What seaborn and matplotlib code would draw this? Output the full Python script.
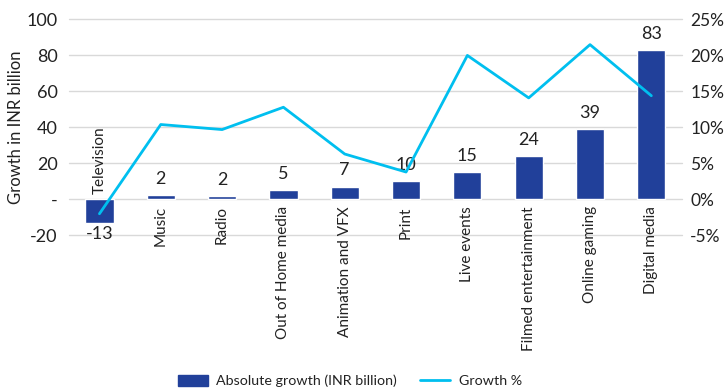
import matplotlib
matplotlib.use("Agg")
import matplotlib.pyplot as plt
import seaborn as sns
import pandas as pd
import numpy as np
from matplotlib.ticker import FuncFormatter
from matplotlib.patches import Patch
from matplotlib.lines import Line2D

categories = ["Television", "Music", "Radio", "Out of Home media", "Animation and VFX",
              "Print", "Live events", "Filmed entertainment", "Online gaming", "Digital media"]
abs_growth = [-13, 2.2, 1.6, 5, 7, 10, 15, 24, 39, 83]
growth_pct = [-2.0, 10.4, 9.7, 12.8, 6.3, 3.8, 20.0, 14.1, 21.5, 14.4]
left_ticks = [-20, 0, 20, 40, 60, 80, 100]
right_ticks = [-5, 0, 5, 10, 15, 20, 25]

bar_color = "#21409A"
line_color = "#00BFEF"
text_color = "#222222"

sns.set_theme(style="white")
plt.rcParams["font.family"] = ["Lato", "DejaVu Sans"]

df = pd.DataFrame({"cat": categories, "abs": abs_growth, "pct": growth_pct,
                   "pos": np.arange(len(categories))})

fig = plt.figure(figsize=(7.24, 3.89), dpi=100)
ax = fig.add_axes([0.095, 0.395, 0.847, 0.555])

sns.barplot(data=df, x="cat", y="abs", order=categories, color=bar_color,
            width=0.46, saturation=1, ax=ax, zorder=3)
ax.set_ylim(-20, 100)
ax.set_xlim(-0.5, 9.5)
ax.set_yticks(left_ticks)
ax.yaxis.set_major_formatter(FuncFormatter(lambda v, p: "-" if v == 0 else f"{int(v)}"))
ax.tick_params(axis="y", labelsize=13, colors=text_color, length=0, pad=8)
ax.set_xticks([])
ax.set_xlabel("")
ax.set_ylabel("Growth in INR billion", fontsize=12, color=text_color, labelpad=2)
for s in ax.spines.values():
    s.set_visible(False)
for t in left_ticks:
    ax.axhline(t, color="#d9d9d9", lw=1, zorder=0, clip_on=False)

# data labels and category labels
for i, (c, v) in enumerate(zip(categories, abs_growth)):
    if v >= 0:
        ax.annotate(f"{v:.0f}", (i, v), xytext=(0, 6), textcoords="offset points",
                    ha="center", va="bottom", fontsize=13, color=text_color)
        ax.annotate(c, (i, 0), xytext=(0, -5), textcoords="offset points",
                    ha="center", va="top", rotation=90, fontsize=11, color=text_color)
    else:
        ax.annotate(f"{v:.0f}", (i, v), xytext=(0, -2), textcoords="offset points",
                    ha="center", va="top", fontsize=13, color=text_color)
        ax.annotate(c, (i, 0), xytext=(0, 4), textcoords="offset points",
                    ha="center", va="bottom", rotation=90, fontsize=11, color=text_color)

ax2 = ax.twinx()
sns.lineplot(data=df, x="pos", y="pct", color=line_color, lw=2, ax=ax2, zorder=4)
ax2.set_ylim(-5, 25)
ax2.set_yticks(right_ticks)
ax2.yaxis.set_major_formatter(FuncFormatter(lambda v, p: f"{int(v)}%"))
ax2.tick_params(axis="y", labelsize=12.5, colors=text_color, length=0, pad=6)
ax2.set_ylabel("")
ax2.set_xlabel("")
ax2.set_xlim(-0.5, 9.5)
for s in ax2.spines.values():
    s.set_visible(False)

handles = [Patch(color=bar_color, label="Absolute growth (INR billion)"),
           Line2D([0], [0], color=line_color, lw=2, label="Growth %")]
fig.legend(handles=handles, loc="center", bbox_to_anchor=(0.483, 0.02), ncol=2,
           frameon=False, fontsize=10.3, handlelength=2.1, handleheight=0.8,
           columnspacing=1.6, handletextpad=0.6, labelcolor=text_color)

fig.savefig("out.png", dpi=100)
